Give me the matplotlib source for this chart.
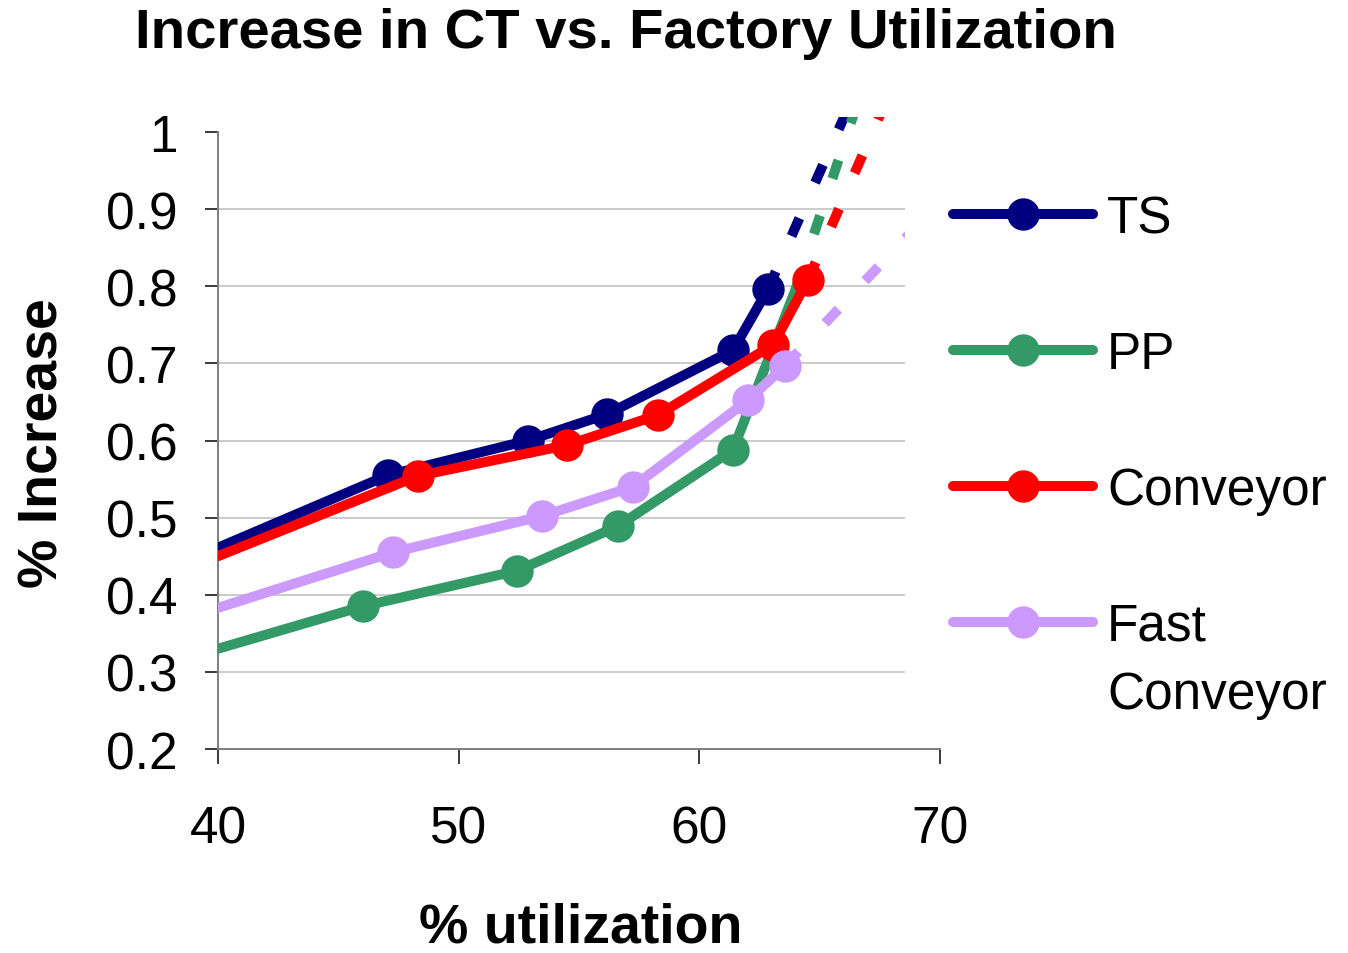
import matplotlib
matplotlib.use("Agg")
import matplotlib.pyplot as plt
from matplotlib.lines import Line2D
from matplotlib.patches import Rectangle

plt.rcParams['font.family'] = ['Liberation Sans', 'DejaVu Sans']
plt.rcParams['lines.scale_dashes'] = False

# ---- data -------------------------------------------------------------
series_names = ["TS", "PP", "Conveyor", "Fast Conveyor"]
colors = ["#000080", "#339966", "#FF0000", "#CC99FF"]

ts_x = [40.0, 47.06, 52.88, 56.16, 61.40, 62.85]
ts_y = [0.461, 0.555, 0.600, 0.634, 0.717, 0.796]
pp_x = [40.0, 46.02, 52.42, 56.62, 61.40, 64.0]
pp_y = [0.330, 0.385, 0.431, 0.489, 0.588, 0.796]
conv_x = [40.0, 48.30, 54.50, 58.28, 63.06, 64.51]
conv_y = [0.450, 0.554, 0.594, 0.633, 0.724, 0.808]
fast_x = [40.0, 47.27, 53.46, 57.24, 62.02, 63.56]
fast_y = [0.383, 0.455, 0.502, 0.540, 0.652, 0.697]

# dashed continuation end points (beyond the visible plot area)
ext_x = [66.45, 66.7, 67.9, 70.0]
ext_y = [1.05, 1.05, 1.05, 0.91]

# markers shown per series (PP's last point hidden)
marker_idx = [[1, 2, 3, 4, 5], [1, 2, 3, 4], [1, 2, 3, 4, 5], [1, 2, 3, 4, 5]]

x_ticks = [40, 50, 60, 70]
y_ticks = [0.2, 0.3, 0.4, 0.5, 0.6, 0.7, 0.8, 0.9, 1.0]
y_tick_labels = ["0.2", "0.3", "0.4", "0.5", "0.6", "0.7", "0.8", "0.9", "1"]
grid_y = [0.3, 0.4, 0.5, 0.6, 0.7, 0.8, 0.9]

title = "Increase in CT vs. Factory Utilization"
x_label = "% utilization"
y_label = "% Increase"

# ---- figure -----------------------------------------------------------
W, H = 1348, 954
fig = plt.figure(figsize=(W / 100, H / 100), dpi=100)
px = 0.72  # points per pixel

ax_l, ax_r, ax_b, ax_t = 218, 940, 750, 118
ax = fig.add_axes([ax_l / W, 1 - ax_b / H, (ax_r - ax_l) / W, (ax_b - ax_t) / H])
ax.set_xlim(40, 70)
ax.set_ylim(0.2, 0.2 + (ax_b - ax_t) / 771.25)

for s in ["top", "right"]:
    ax.spines[s].set_visible(False)
for s in ["left", "bottom"]:
    ax.spines[s].set_color("#808080")
    ax.spines[s].set_linewidth(2 * px)
ax.spines["left"].set_bounds(0.2, 1.0)

ax.hlines(grid_y, 40, 68.55, color="#c0c0c0", lw=1.6 * px, zorder=0.5)

clip_rect = Rectangle((40, 0.2), 68.55 - 40, 0.8195, transform=ax.transData)

all_x = [ts_x, pp_x, conv_x, fast_x]
all_y = [ts_y, pp_y, conv_y, fast_y]
lw = 10 * px
ms = 31 * px
for i, (xs, ys) in enumerate(zip(all_x, all_y)):
    d, = ax.plot([xs[-1], ext_x[i]], [ys[-1], ext_y[i]], color=colors[i], lw=lw,
                 linestyle=(0, (14, 28)), dash_capstyle="butt", zorder=2 + i * 0.1)
    d.set_clip_path(clip_rect)
for i, (xs, ys) in enumerate(zip(all_x, all_y)):
    ln, = ax.plot(xs, ys, color=colors[i], lw=lw, marker="o", ms=ms,
                  markevery=marker_idx[i], solid_capstyle="round",
                  solid_joinstyle="round", zorder=3 + i * 0.1)
    ln.set_clip_path(clip_rect)

ax.set_xticks(x_ticks)
ax.set_xticklabels([str(v) for v in x_ticks])
ax.set_yticks(y_ticks)
ax.set_yticklabels(y_tick_labels)
ax.tick_params(axis="y", direction="out", length=13 * px, width=1.5 * px,
               color="black", labelsize=37, pad=27 * px)
ax.tick_params(axis="x", direction="out", length=15 * px, width=1.5 * px,
               color="black", labelsize=37, pad=40 * px)

fig.text(626 / W, 1 - 48 / H, title, ha="center", va="baseline",
         fontsize=40.5, fontweight="bold")
fig.text(581 / W, 1 - 943 / H, x_label, ha="center", va="baseline",
         fontsize=40, fontweight="bold")
fig.text(58 / W, 1 - 443 / H, y_label, ha="center", va="baseline",
         rotation=90, rotation_mode="anchor", fontsize=40, fontweight="bold")

handles = [Line2D([], [], color=c, lw=lw, marker="o", ms=ms,
                  solid_capstyle="round") for c in colors]
leg_labels = ["TS", "PP", "Conveyor", "Fast"]
fs_leg = 37
leg = ax.legend(handles, leg_labels, loc="upper left",
                bbox_to_anchor=(953 / W, 1 - 195 / H), bbox_transform=fig.transFigure,
                frameon=False, borderpad=0, borderaxespad=0,
                handlelength=(140 * px) / fs_leg, handletextpad=(14 * px) / fs_leg,
                labelspacing=1.69, fontsize=fs_leg, markerscale=1.0)
leg.set_zorder(5)
ax.annotate("Conveyor", xy=(0, 0), xycoords=leg.texts[3], xytext=(0, -68),
            textcoords="offset pixels", ha="left", va="bottom", fontsize=fs_leg,
            zorder=10)

fig.savefig("out.png", dpi=100)
